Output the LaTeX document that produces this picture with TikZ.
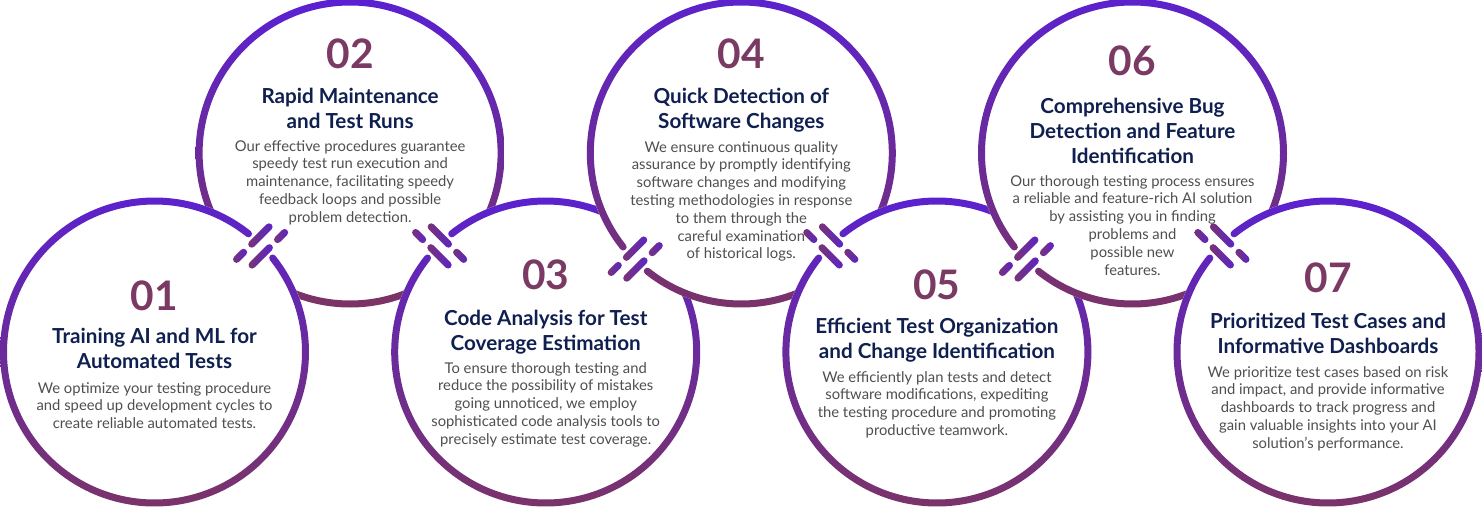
\documentclass[tikz,border=0pt]{standalone}
\usepackage{fontspec}
\setmainfont{Lato}
\definecolor{ringtop}{HTML}{5A21D3}
\definecolor{ringbot}{HTML}{7C3463}
\definecolor{numcol}{HTML}{7A3A63}
\definecolor{titlecol}{HTML}{0F1F4F}
\definecolor{bodycol}{HTML}{4F4F4F}
\definecolor{bartop}{HTML}{5A24CC}
\definecolor{barbot}{HTML}{7A3470}
\def\RingOut{154.5}
\def\RingIn{147.5}
\def\RingCap{3.5}
\def\RingGap{6.5}
% ring with a gap at angle #3
\newcommand\gapring[3]{%
  \begin{scope}[shift={(#1,-#2)}]
    \fill[white] (0,0) circle[radius=\RingOut];
    \shade[top color=ringtop, bottom color=ringbot]
      ({#3+\RingGap}:\RingOut)
      arc[start angle={#3+\RingGap}, end angle={#3+360-\RingGap}, radius=\RingOut]
      arc[start angle={#3-\RingGap}, end angle={#3-\RingGap+180}, radius=\RingCap]
      arc[start angle={#3-\RingGap}, end angle={#3+\RingGap-360}, radius=\RingIn]
      arc[start angle={#3+\RingGap+180}, end angle={#3+\RingGap+360}, radius=\RingCap]
      -- cycle;
  \end{scope}}
\newcommand\fullring[2]{%
  \begin{scope}[shift={(#1,-#2)}]
    \fill[white] (0,0) circle[radius=\RingOut];
    \shade[top color=ringtop, bottom color=ringbot, even odd rule]
      (0,0) circle[radius=\RingOut] (0,0) circle[radius=\RingIn];
  \end{scope}}
% chain mark on ring of circle (#1,#2) at angle #3, mirror #4
\newcommand\chainlink[4]{%
  \begin{scope}[shift={(#1,-#2)}, shift={(#3:150)}, rotate=#3, yscale=#4]
    \shade[left color=barbot, right color=bartop, rounded corners=2.6pt] (-30,4) rectangle (-13,11);
    \shade[left color=barbot, right color=bartop, rounded corners=2.6pt] (-8.5,4) rectangle (23,11);
    \shade[left color=barbot, right color=bartop, rounded corners=2.6pt] (-23,-11) rectangle (8.5,-4);
    \shade[left color=barbot, right color=bartop, rounded corners=2.6pt] (13,-11) rectangle (30,-4);
  \end{scope}}
\tikzset{
  numtxt/.style={font=\fontsize{30.5}{30.5}\selectfont\bfseries, text=numcol, inner sep=0pt, anchor=base},
  ttltxt/.style={font=\fontsize{15.5}{18.75}\selectfont\bfseries, text=titlecol, align=center, inner sep=0pt, anchor=base},
  bdytxt/.style={font=\fontsize{11.1}{13.35}\selectfont, text=bodycol, align=center, inner sep=0pt, anchor=base}
}
\begin{document}
\begin{tikzpicture}[x=0.75pt, y=0.75pt]
\useasboundingbox (0,0) rectangle (1482,-514);
\fill[white] (0,0) rectangle (1482,-514);
% rings, back to front
\fullring{350.1}{153}
\gapring{154.5}{352}{45}
\chainlink{154.5}{352}{45}{1}
\gapring{545.7}{352}{135}
\chainlink{545.7}{352}{135}{-1}
\gapring{741.3}{153}{225}
\chainlink{741.3}{153}{225}{1}
\gapring{936.9}{352}{135}
\chainlink{936.9}{352}{135}{-1}
\gapring{1132.5}{153}{225}
\chainlink{1132.5}{153}{225}{1}
\gapring{1328}{352}{135}
\chainlink{1328}{352}{135}{-1}
% texts (anchor base = baseline of last line)
\node[numtxt] (n1) at (154.5,-310) {01};
\node[ttltxt] (t1) at (154.5,-368) {Training AI and ML for\\Automated Tests};
\node[bdytxt] (b1) at (154.5,-428.6) {We optimize your testing procedure\\and speed up development cycles to\\create reliable automated tests.};
\node[numtxt] (n2) at (350.1,-68) {02};
\node[ttltxt] (t2) at (350.1,-128) {Rapid Maintenance\\and Test Runs};
\node[bdytxt] (b2) at (350.1,-222.2) {Our effective procedures guarantee\\speedy test run execution and\\maintenance, facilitating speedy\\feedback loops and possible\\problem detection.};
\node[numtxt] (n3) at (545.7,-289) {03};
\node[ttltxt] (t3) at (545.7,-350) {Code Analysis for Test\\Coverage Estimation};
\node[bdytxt] (b3) at (545.7,-444.2) {To ensure thorough testing and\\reduce the possibility of mistakes\\going unnoticed, we employ\\sophisticated code analysis tools to\\precisely estimate test coverage.};
\node[numtxt] (n4) at (741.3,-68) {04};
\node[ttltxt] (t4) at (741.3,-128) {Quick Detection of\\Software Changes};
\node[bdytxt] (b4) at (741.3,-258.8) {We ensure continuous quality\\assurance by promptly identifying\\software changes and modifying\\testing methodologies in response\\to them through the\\careful examination\\of historical logs.};
\node[numtxt] (n5) at (936.9,-299) {05};
\node[ttltxt] (t5) at (936.9,-358) {Efficient Test Organization\\and Change Identification};
\node[bdytxt] (b5) at (936.9,-435.4) {We efficiently plan tests and detect\\software modifications, expediting\\the testing procedure and promoting\\productive teamwork.};
\node[numtxt] (n6) at (1132.5,-75) {06};
\node[ttltxt] (t6) at (1132.5,-163) {Comprehensive Bug\\Detection and Feature\\Identification};
\node[bdytxt] (b6) at (1132.5,-275) {Our thorough testing process ensures\\a reliable and feature-rich AI solution\\by assisting you in finding\\problems and\\possible new\\features.};
\node[numtxt] (n7) at (1328,-292) {07};
\node[ttltxt] (t7) at (1328,-353) {Prioritized Test Cases and\\Informative Dashboards};
\node[bdytxt] (b7) at (1328,-448.2) {We prioritize test cases based on risk\\and impact, and provide informative\\dashboards to track progress and\\gain valuable insights into your AI\\solution’s performance.};
\end{tikzpicture}
\end{document}
